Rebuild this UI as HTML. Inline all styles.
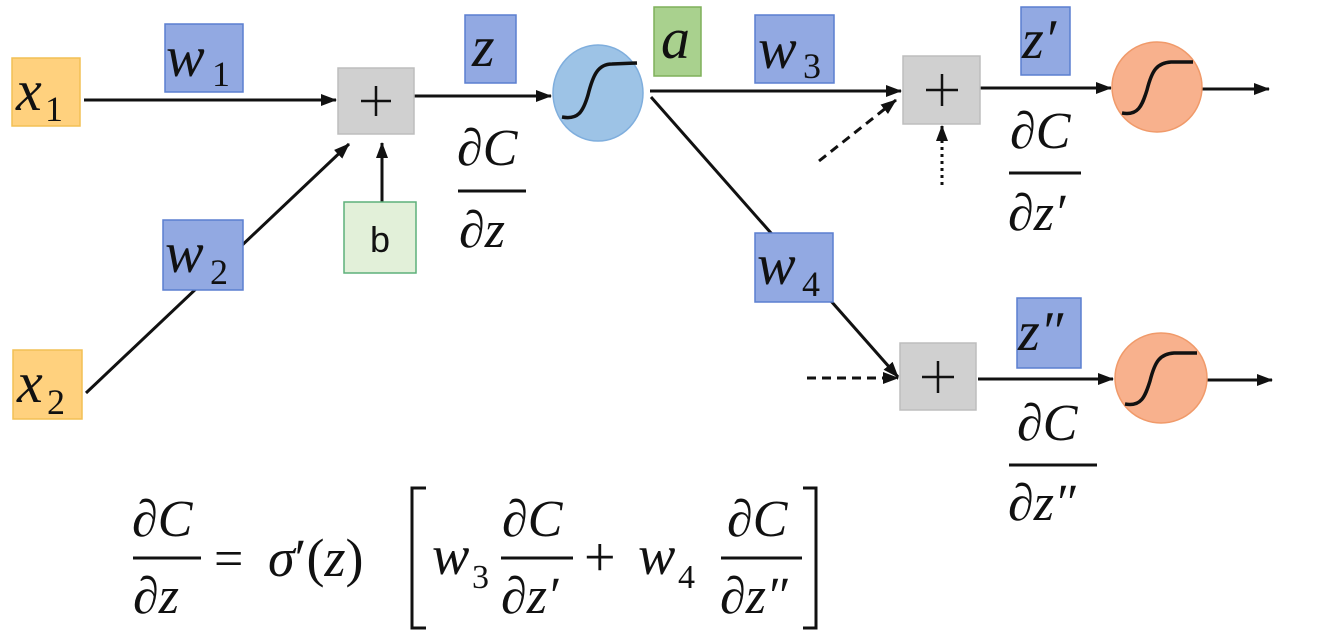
<!DOCTYPE html>
<html><head><meta charset="utf-8"><style>
html,body{margin:0;padding:0;background:#fff;}
svg{display:block;}
text{font-family:"Liberation Serif","DejaVu Serif",serif;fill:#111;}
.it{font-style:italic;}
</style></head><body>
<svg width="1323" height="636" viewBox="0 0 1323 636" xmlns="http://www.w3.org/2000/svg">
<defs>
<marker id="ar2" markerWidth="16" markerHeight="12" refX="15" refY="6" orient="auto" markerUnits="userSpaceOnUse"><path d="M0,0 L16,6 L0,12 z" fill="#111"/></marker>
</defs>
<g stroke="#111" stroke-width="3" fill="none">
<line x1="84" y1="100" x2="336" y2="100" marker-end="url(#ar2)"/>
<line x1="86" y1="393" x2="349" y2="144" marker-end="url(#ar2)"/>
<line x1="382" y1="202" x2="382" y2="143" marker-end="url(#ar2)"/>
<line x1="414" y1="96" x2="551" y2="96" marker-end="url(#ar2)"/>
<line x1="650" y1="91" x2="901" y2="91" marker-end="url(#ar2)"/>
<line x1="651" y1="97" x2="898" y2="377" marker-end="url(#ar2)"/>
<line x1="819" y1="161" x2="896" y2="100" stroke-dasharray="9,6" marker-end="url(#ar2)"/>
<line x1="942" y1="185" x2="942" y2="126" stroke-dasharray="3,4" marker-end="url(#ar2)"/>
<line x1="980" y1="88" x2="1111" y2="88" marker-end="url(#ar2)"/>
<line x1="1202" y1="89" x2="1269" y2="89" marker-end="url(#ar2)"/>
<line x1="807" y1="378" x2="898" y2="378" stroke-dasharray="9,6" marker-end="url(#ar2)"/>
<line x1="978" y1="379" x2="1113" y2="379" marker-end="url(#ar2)"/>
<line x1="1205" y1="380" x2="1272" y2="380" marker-end="url(#ar2)"/>
</g>
<rect x="12" y="58" width="68" height="68" fill="#FFD17E" stroke="#F2C055" stroke-width="1.5"/>
<text x="16" y="110" font-size="58" class="it">x</text><text x="45" y="121" font-size="36">1</text>
<rect x="13" y="350" width="69" height="69" fill="#FFD17E" stroke="#F2C055" stroke-width="1.5"/>
<text x="17" y="402" font-size="58" class="it">x</text><text x="47" y="414" font-size="36">2</text>
<rect x="165" y="24" width="78" height="68" fill="#92A9E2" stroke="#5B7FD0" stroke-width="1.5"/>
<text x="166" y="76" font-size="58" class="it">w</text><text x="212" y="86" font-size="36">1</text>
<rect x="163" y="220" width="80" height="70" fill="#92A9E2" stroke="#5B7FD0" stroke-width="1.5"/>
<text x="165" y="272" font-size="58" class="it">w</text><text x="210" y="284" font-size="36">2</text>
<rect x="465" y="15" width="51" height="68" fill="#92A9E2" stroke="#5B7FD0" stroke-width="1.5"/>
<text x="472" y="66" font-size="58" class="it">z</text>
<rect x="755" y="15" width="79" height="68" fill="#92A9E2" stroke="#5B7FD0" stroke-width="1.5"/>
<text x="758" y="68" font-size="58" class="it">w</text><text x="803" y="78" font-size="36">3</text>
<rect x="755" y="233" width="78" height="69" fill="#92A9E2" stroke="#5B7FD0" stroke-width="1.5"/>
<text x="757" y="284" font-size="58" class="it">w</text><text x="802" y="296" font-size="36">4</text>
<rect x="1021" y="7" width="49" height="68" fill="#92A9E2" stroke="#5B7FD0" stroke-width="1.5"/>
<text x="1022" y="58" font-size="56" class="it">z′</text>
<rect x="1017" y="298" width="64" height="70" fill="#92A9E2" stroke="#5B7FD0" stroke-width="1.5"/>
<text x="1018" y="350" font-size="56" class="it">z″</text>
<rect x="654" y="7" width="47" height="69" fill="#A9D18E" stroke="#7FB05A" stroke-width="1.5"/>
<text x="661" y="58" font-size="58" class="it">a</text>
<rect x="344" y="202" width="72" height="71" fill="#E2F0D9" stroke="#5DB07A" stroke-width="1.5"/>
<text x="380" y="252" font-size="36" text-anchor="middle" style="font-family:'Liberation Sans',sans-serif">b</text>
<g fill="#D0D0D0" stroke="#BDBDBD" stroke-width="1.5">
<rect x="338" y="68" width="76" height="66"/>
<rect x="903" y="56" width="77" height="68"/>
<rect x="900" y="343" width="76" height="67"/>
</g>
<g stroke="#111" stroke-width="2.5">
<line x1="376" y1="86" x2="376" y2="116"/><line x1="361" y1="101" x2="391" y2="101"/>
<line x1="942" y1="74" x2="942" y2="106"/><line x1="926" y1="90" x2="958" y2="90"/>
<line x1="938" y1="361" x2="938" y2="393"/><line x1="922" y1="377" x2="954" y2="377"/>
</g>
<ellipse cx="598" cy="93" rx="45" ry="48" fill="#9DC3E6" stroke="#7FAEDD" stroke-width="1.5"/>
<path d="M562,117 C578,120 583,112 588,95 C593,75 598,64 612,64 L637,63" stroke="#111" stroke-width="3.5" fill="none"/>
<ellipse cx="1157" cy="87" rx="45" ry="45" fill="#F8B18D" stroke="#F09A6A" stroke-width="1.5"/>
<path d="M1122,113 C1138,116 1142,106 1147,90 C1152,70 1157,63 1171,62 L1193,62" stroke="#111" stroke-width="3.5" fill="none"/>
<ellipse cx="1161" cy="378" rx="46" ry="45" fill="#F8B18D" stroke="#F09A6A" stroke-width="1.5"/>
<path d="M1125,404 C1141,407 1145,397 1150,381 C1155,361 1160,354 1174,353 L1197,353" stroke="#111" stroke-width="3.5" fill="none"/>
<g font-size="52">
<text x="457" y="165" class="it">∂C</text>
<line x1="458" y1="191" x2="526" y2="191" stroke="#111" stroke-width="3"/>
<text x="459" y="247" class="it">∂z</text>
<text x="1010" y="148" class="it">∂C</text>
<line x1="1009" y1="173" x2="1081" y2="173" stroke="#111" stroke-width="3"/>
<text x="1008" y="230" class="it">∂z′</text>
<text x="1017" y="440" class="it">∂C</text>
<line x1="1009" y1="465" x2="1097" y2="465" stroke="#111" stroke-width="3"/>
<text x="1008" y="520" class="it">∂z″</text>
</g>
<g font-size="52">
<text x="132" y="536" class="it">∂C</text>
<line x1="133" y1="558" x2="201" y2="558" stroke="#111" stroke-width="3"/>
<text x="133" y="613" class="it">∂z</text>
<text x="214" y="576">=</text>
<text x="268" y="576" font-size="54"><tspan class="it">σ</tspan>′(<tspan class="it">z</tspan>)</text>
<text x="432" y="574" class="it" font-size="56">w</text><text x="472" y="588" font-size="34">3</text>
<text x="502" y="536" class="it">∂C</text>
<line x1="501" y1="558" x2="573" y2="558" stroke="#111" stroke-width="3"/>
<text x="501" y="613" class="it">∂z′</text>
<text x="584" y="576" font-size="56">+</text>
<text x="638" y="574" class="it" font-size="56">w</text><text x="678" y="588" font-size="34">4</text>
<text x="727" y="536" class="it">∂C</text>
<line x1="721" y1="558" x2="802" y2="558" stroke="#111" stroke-width="3"/>
<text x="720" y="613" class="it">∂z″</text>
</g>
<path d="M426,488 L412,488 L412,628 L426,628" stroke="#111" stroke-width="3" fill="none"/>
<path d="M803,488 L816,488 L816,628 L803,628" stroke="#111" stroke-width="3" fill="none"/>
</svg>
</body></html>
